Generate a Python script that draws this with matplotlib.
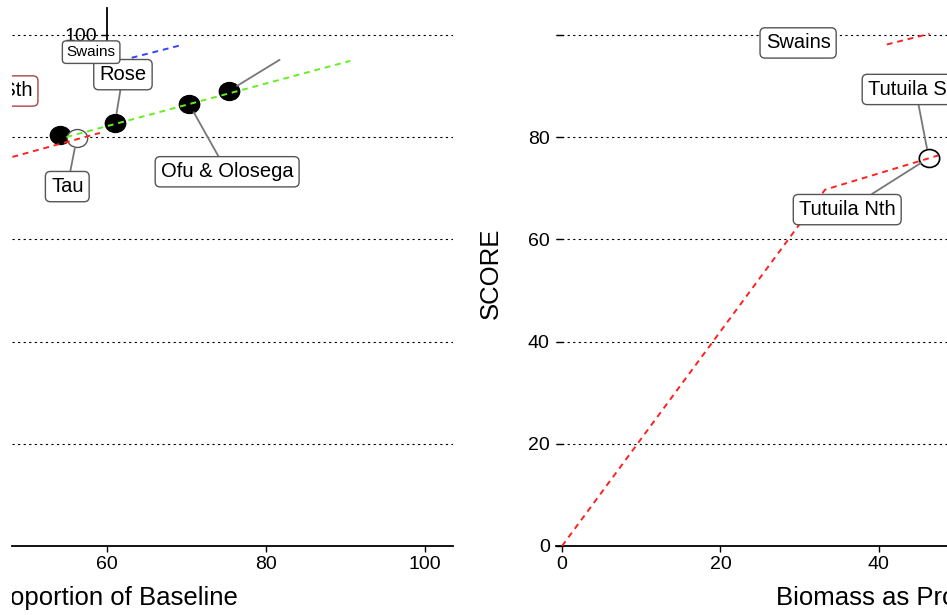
import matplotlib
matplotlib.use("Agg")
import matplotlib.pyplot as plt
from matplotlib.path import Path
from matplotlib.transforms import Bbox, TransformedBbox, Affine2D

plt.rcParams['font.family'] = ['Liberation Sans', 'DejaVu Sans']

# left panel: sites as points
left_x = [54.1, 61.0, 70.3, 75.3]
left_y = [80.4, 82.8, 86.5, 89.0]
tau_x, tau_y = [56.2], [79.8]
# right panel: site point
right_x = [46.3]
right_y = [75.9]

# dashed trend lines
red_left_x = [48.1, 59.1]
red_left_y = [76.1, 80.8]
green_x = [54.9, 90.6]
green_y = [80.0, 94.9]
blue_x = [63.1, 69.4]
blue_y = [95.5, 98.0]
red_right_x = [0, 33.2, 47.5]
red_right_y = [0, 69.7, 76.4]
red_top_x = [41.0, 46.4]
red_top_y = [98.1, 100.2]

grid_levels = [20, 40, 60, 80, 100]
x_ticks = [0, 20, 40, 60, 80, 100]
y_ticks = [0, 20, 40, 60, 80, 100]
y_labels = ['0', '20', '40', '60', '80', '']

# ellipse marker (picture is slightly squashed vertically)
ell = Path.unit_circle().transformed(Affine2D().scale(1.0, 0.88))

fig = plt.figure(figsize=(9.47, 6.15), dpi=100)
ax_l = fig.add_axes([12/947, 69/615, 441/947, 546/615])
ax_r = fig.add_axes([556/947, 69/615, 826/947, 546/615])

grid_kw = dict(color='black', lw=0.8, ls=(0, (2, 3)), zorder=1)
box_kw = dict(boxstyle='round,pad=0.28,rounding_size=0.25', fc='white', ec='#555555', lw=1.0)
lead_kw = dict(arrowstyle='-', color='#777777', lw=1.3, shrinkA=0, shrinkB=7)

# ---------- left panel ----------
ax_l.set_xlim(48.05, 103.5)
ax_l.set_ylim(0, 106.8)
ax_l.set_facecolor('none')
for g in grid_levels:
    ax_l.axhline(g, **grid_kw)

ax_l.scatter(left_x, left_y, s=215, marker=ell, color='black', zorder=3)
ax_l.scatter(tau_x, tau_y, s=215, marker=ell, facecolor='white', edgecolor='#555555', lw=1, zorder=3)
ax_l.plot(red_left_x, red_left_y, color='#ff2020', lw=1.4, ls=(0, (3, 2.5)), zorder=4)
ax_l.plot(green_x, green_y, color='#66ee22', lw=1.4, ls=(0, (3, 2.5)), zorder=4)
ax_l.plot(blue_x, blue_y, color='#3344ff', lw=1.4, ls=(0, (3, 2.5)), zorder=4)

ax_l.annotate('Rose', xy=(left_x[1], left_y[1]), xytext=(62.0, 92.2), ha='center', va='center',
              fontsize=14.5, bbox=box_kw, arrowprops=lead_kw, zorder=5)
ax_l.annotate('Tau', xy=(tau_x[0], tau_y[0]), xytext=(55.0, 70.3), ha='center', va='center',
              fontsize=14.5, bbox=box_kw, arrowprops=lead_kw, zorder=5)
ax_l.annotate('Ofu & Olosega', xy=(left_x[2], left_y[2]), xytext=(75.1, 73.2), ha='center', va='center',
              fontsize=14.5, bbox=box_kw, arrowprops=lead_kw, zorder=5)
ax_l.annotate('', xy=(left_x[3], left_y[3]), xytext=(81.7, 95.1), arrowprops=lead_kw, zorder=5)
ax_l.text(58.0, 96.6, 'Swains', ha='center', va='center', fontsize=11, bbox=box_kw, zorder=5)
ax_l.text(44.6, 89.0, 'Tutuila Sth', ha='center', va='center', fontsize=14.5,
          bbox=dict(box_kw, ec='#aa4444'), zorder=5, clip_on=True)

for s in ['top', 'right']:
    ax_l.spines[s].set_visible(False)
ax_l.spines['left'].set_position(('data', 60))
ax_l.spines['left'].set_bounds(97.1, 105.3)
ax_l.spines['left'].set_linewidth(1.3)
ax_l.spines['bottom'].set_linewidth(1.3)
ax_l.set_yticks([100])
ax_l.set_xticks([60, 80, 100])
ax_l.tick_params(axis='both', direction='out', length=4.3, width=1.0, labelsize=14, pad=3)

# ---------- right panel ----------
ax_r.set_xlim(-0.76, 103.5)
ax_r.set_ylim(0, 106.8)
ax_r.set_facecolor('none')
for g in grid_levels:
    ax_r.axhline(g, **grid_kw)

ax_r.plot(red_right_x, red_right_y, color='#ff2020', lw=1.4, ls=(0, (3, 2.5)), zorder=4)
ax_r.plot(red_top_x, red_top_y, color='#ff2020', lw=1.4, ls=(0, (3, 2.5)), zorder=4)
ax_r.scatter(right_x, right_y, s=215, marker=ell, facecolor='white', edgecolor='black', lw=1.2, zorder=3)

ax_r.text(29.8, 98.4, 'Swains', ha='center', va='center', fontsize=14.5, bbox=box_kw, zorder=5)
ax_r.annotate('Tutuila Sth', xy=(right_x[0], right_y[0]), xytext=(38.6, 89.3), ha='left', va='center',
              fontsize=14.5, bbox=box_kw, arrowprops=lead_kw, zorder=5)
ax_r.annotate('Tutuila Nth', xy=(right_x[0], right_y[0]), xytext=(36.0, 65.8), ha='center', va='center',
              fontsize=14.5, bbox=box_kw, arrowprops=lead_kw, zorder=5)

for s in ['top', 'right', 'left']:
    ax_r.spines[s].set_visible(False)
ax_r.spines['bottom'].set_linewidth(1.3)
ax_r.set_xticks(x_ticks)
ax_r.set_yticks(y_ticks)
ax_r.set_yticklabels(y_labels)
ax_r.tick_params(axis='x', direction='out', length=4.3, width=1.0, labelsize=14, pad=3)
ax_r.tick_params(axis='y', direction='in', length=5, width=1.0, labelsize=14, pad=4.5)
ax_r.set_ylabel('SCORE', fontsize=18.5)
ax_r.yaxis.set_label_coords(-0.064, 0.5)

# axis titles (cropped off at the edges)
clip = TransformedBbox(Bbox.from_extents(12/947, 0, 1, 1), fig.transFigure)
t = fig.text(238/947, 0.028, 'Biomass as Proportion of Baseline', ha='right', va='center', fontsize=18.5)
t.set_clip_box(clip)
t.set_clip_on(True)
fig.text(776/947, 0.028, 'Biomass as Proportion of Baseline', ha='left', va='center', fontsize=18.5)

fig.savefig('out.png', dpi=100)
